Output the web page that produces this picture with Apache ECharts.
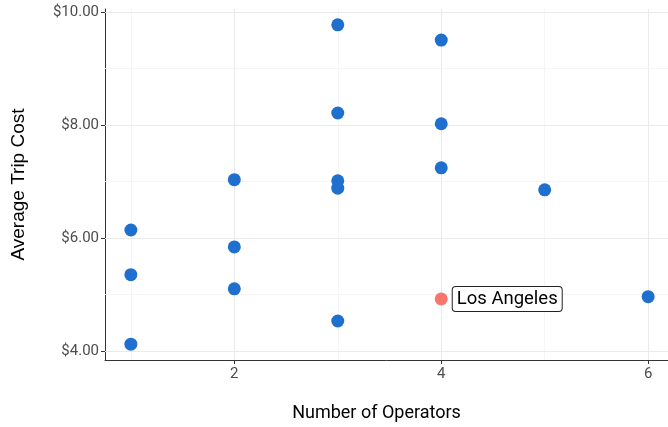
<!DOCTYPE html>
<html>
<head>
<meta charset="utf-8">
<script src="https://cdn.jsdelivr.net/npm/echarts@6/dist/echarts.min.js"></script>
<style>
  html, body { margin: 0; padding: 0; background: #fff; }
  #chart { width: 668px; height: 427px; }
</style>
</head>
<body>
<div id="chart"></div>
<script>
// operators vs average trip cost
var operators = [1, 1, 1, 2, 2, 2, 3, 3, 3, 3, 3, 4, 4, 4, 5, 6];
var tripCost = [6.14, 5.35, 4.12, 7.03, 5.84, 5.10, 9.77, 8.21, 7.01, 6.88, 4.53, 9.50, 8.02, 7.24, 6.85, 4.96];
var highlightName = 'Los Angeles';
var highlightOperators = 4;
var highlightCost = 4.92;

var xTicks = [2, 4, 6];
var xMinor = [1, 3, 5];
var yTicks = [4, 6, 8, 10];
var yMinor = [5, 7, 9];

var myChart = echarts.init(document.getElementById('chart'));

var gridLines = [];
xTicks.forEach(function (v) { gridLines.push({ xAxis: v, lineStyle: { color: '#ebebeb', width: 1.1, type: 'solid' } }); });
xMinor.forEach(function (v) { gridLines.push({ xAxis: v, lineStyle: { color: '#f3f3f3', width: 0.8, type: 'solid' } }); });
yTicks.forEach(function (v) { gridLines.push({ yAxis: v, lineStyle: { color: '#ebebeb', width: 1.1, type: 'solid' } }); });
yMinor.forEach(function (v) { gridLines.push({ yAxis: v, lineStyle: { color: '#f3f3f3', width: 0.8, type: 'solid' } }); });

var option = {
    animation: false,
    grid: { left: 105, width: 569, top: 9, height: 351, outerBoundsMode: 'none', containLabel: false },
    xAxis: {
        type: 'value',
        min: 0.75,
        max: 6.25,
        name: 'Number of Operators',
        nameLocation: 'middle',
        nameGap: 44,
        nameTextStyle: { fontFamily: 'Roboto', fontSize: 18, color: '#000', padding: [0, 26, 0, 0] },
        axisLine: { show: true, onZero: false, lineStyle: { color: '#333', width: 1 } },
        axisTick: { show: true, length: 4, customValues: xTicks, lineStyle: { color: '#333' } },
        axisLabel: { customValues: xTicks, fontFamily: 'Roboto', fontSize: 15, color: '#4d4d4d', margin: 7 },
        splitLine: { show: false }
    },
    yAxis: {
        type: 'value',
        min: 3.84,
        max: 10.05,
        name: 'Average Trip Cost',
        nameLocation: 'middle',
        nameGap: 77,
        nameTextStyle: { fontFamily: 'Liberation Sans', fontSize: 19, color: '#000' },
        axisLine: { show: true, onZero: false, lineStyle: { color: '#333', width: 1 } },
        axisTick: { show: true, length: 4, customValues: yTicks, lineStyle: { color: '#333' } },
        axisLabel: {
            customValues: yTicks, fontFamily: 'Roboto', fontSize: 15, color: '#4d4d4d', margin: 6,
            formatter: function (v) { return '$' + v.toFixed(2); }
        },
        splitLine: { show: false }
    },
    series: [{
        type: 'line',
        data: [],
        silent: true,
        z: 1,
        markLine: {
            silent: true,
            z: 1,
            symbol: 'none',
            label: { show: false },
            animation: false,
            data: gridLines
        }
    }, {
        type: 'scatter',
        data: operators.map(function (o, i) { return [o, tripCost[i]]; }),
        symbolSize: 13,
        itemStyle: { color: '#1f6fcf', opacity: 1 },
        z: 3
    }, {
        type: 'scatter',
        data: [[highlightOperators, highlightCost]],
        symbolSize: 13,
        itemStyle: { color: '#f8766d', opacity: 1 },
        z: 4,
        label: {
            show: true,
            position: 'right',
            distance: 5,
            formatter: highlightName,
            fontFamily: 'Roboto',
            fontSize: 18.5,
            color: '#000',
            backgroundColor: '#fff',
            borderColor: '#222',
            borderWidth: 1,
            borderRadius: 3,
            padding: [3, 4, 2, 4]
        }
    }]
};
myChart.setOption(option);
</script>
</body>
</html>
